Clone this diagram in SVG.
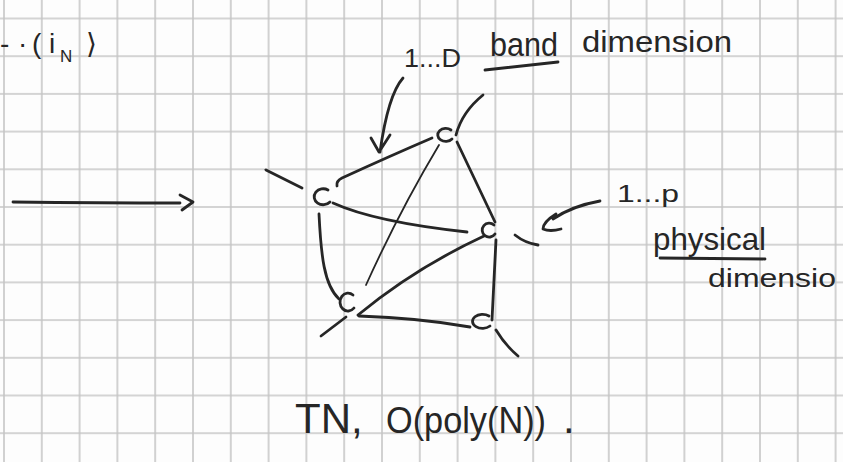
<svg xmlns="http://www.w3.org/2000/svg" width="843" height="462" viewBox="0 0 843 462">
<defs>
<pattern id="grid" x="3" y="17.5" width="37.8" height="37.7" patternUnits="userSpaceOnUse">
<path d="M1 0 V37.7 M0 1 H37.8" stroke="#c6c6c6" stroke-width="1.6" fill="none"/>
</pattern>
<style>
.ink{fill:none;stroke:#262626;stroke-width:2.8;stroke-linecap:round;stroke-linejoin:round}
.thin{stroke-width:1.8}
.node{fill:none;stroke:#262626;stroke-width:2.8;stroke-linecap:round}
.t{font-family:"Liberation Sans",Arial,sans-serif;fill:#262626}
</style>
</defs>
<rect width="843" height="462" fill="#fdfdfd"/>
<rect width="843" height="462" fill="url(#grid)"/>

<g id="connectors">
<path class="ink" d="M337 186 Q336 181 342 178 Q390 156 432 138"/>
<path class="ink" d="M456 135 Q462 112 483 95"/>
<path class="ink thin" d="M439 145 Q400 210 366 285"/>
<path class="ink" d="M457 142 L495 222"/>
<path class="ink" d="M333 203 Q375 222 467 232"/>
<path class="ink" d="M266 170 L302 188"/>
<path class="ink" d="M319 214 C321 255 324 285 339 299"/>
<path class="ink" d="M358 315 Q415 268 484 236"/>
<path class="ink" d="M496 240 Q494 280 492 320"/>
<path class="ink" d="M515 235 Q525 243 538 245"/>
<path class="ink" d="M359 316 Q420 318 470 327"/>
<path class="ink" d="M346 317 L321 336"/>
<path class="ink" d="M496 330 Q505 345 518 356"/>
<path class="ink" d="M403 78 Q388 95 380 152 M371 138 L379 152 L390 135"/>
<path class="ink" d="M600 201 Q572 206 553 219 M556 214 Q543 222 543 229 Q550 232 561 229"/>
<path class="ink" d="M13 202 Q100 203 180 203 M180 195 L193 202 L182 210"/>
<path class="ink" d="M485 70 L558 62"/>
<path class="ink" d="M660 258 L765 259"/>
</g>

<g id="node-a"><path class="node" d="M451 130 A8 6.5 0 1 0 452 139"/></g>
<g id="node-b"><path class="node" d="M328 190 A9 8 0 1 0 330 202"/></g>
<g id="node-c"><path class="node" d="M494 225 A7 7 0 1 0 495 234"/></g>
<g id="node-d"><path class="node" d="M353 295 A8 9 0 1 0 354 308"/></g>
<g id="node-e"><path class="node" d="M489 316 A10 7 0 1 0 490 326"/></g>

<g id="labels">
<text class="t" y="53" font-size="28"><tspan x="0">-</tspan><tspan x="18">·</tspan><tspan x="32">(</tspan><tspan x="49">i</tspan><tspan x="60" dy="9" font-size="17">N</tspan><tspan x="86" dy="-9" font-family="DejaVu Sans, sans-serif">⟩</tspan></text>
<text class="t" x="404" y="67" font-size="26" textLength="57" lengthAdjust="spacingAndGlyphs">1...D</text>
<text class="t" x="490" y="56" font-size="34" textLength="68" lengthAdjust="spacingAndGlyphs">band</text>
<text class="t" x="582" y="52" font-size="30" textLength="150" lengthAdjust="spacingAndGlyphs">dimension</text>
<text class="t" x="617" y="202" font-size="24" textLength="62" lengthAdjust="spacingAndGlyphs">1...p</text>
<text class="t" x="653" y="250" font-size="32" textLength="113" lengthAdjust="spacingAndGlyphs">physical</text>
<text class="t" x="708" y="287" font-size="26" textLength="128" lengthAdjust="spacingAndGlyphs">dimensio</text>
<text class="t" x="295" y="433" font-size="42">TN,</text>
<text class="t" x="386" y="433" font-size="36" textLength="160" lengthAdjust="spacingAndGlyphs">O(poly(N))</text>
<text class="t" x="563" y="433" font-size="42">.</text>
</g>
</svg>
